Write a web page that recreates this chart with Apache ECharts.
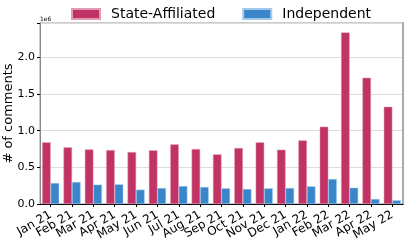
<!DOCTYPE html>
<html>
<head>
<meta charset="utf-8">
<script src="https://cdn.jsdelivr.net/npm/echarts@6/dist/echarts.min.js"></script>
<style>html,body{margin:0;padding:0;background:#fff;}#c{width:407px;height:246px;}</style>
</head>
<body>
<div id="c"></div>
<script>
var categories = ['Jan 21','Feb 21','Mar 21','Apr 21','May 21','Jun 21','Jul 21','Aug 21','Sep 21','Oct 21','Nov 21','Dec 21','Jan 22','Feb 22','Mar 22','Apr 22','May 22'];
var stateAffiliated = [841000,773000,745000,736000,709000,732000,814000,750000,677000,764000,841000,741000,868000,1055000,2341000,1723000,1327000];
var independent = [286000,300000,264000,268000,196000,218000,245000,232000,214000,205000,214000,218000,241000,341000,222000,68000,50000];
var seriesNames = ['State-Affiliated','Independent'];
var yTicks = [0, 500000, 1000000, 1500000, 2000000];

var font = 'DejaVu Sans';
var chart = echarts.init(document.getElementById('c'), null, {renderer:'canvas'});
chart.setOption({
  animation:false,
  textStyle:{fontFamily:font},
  legend:{
    top:7, left:71, padding:0, itemWidth:28, itemHeight:10, itemGap:27,
    icon:'rect',
    textStyle:{fontFamily:font, fontSize:14, color:'#000', padding:[0,0,0,6]},
    data:seriesNames
  },
  grid:{left:40, right:4, top:23, bottom:42, show:true, borderColor:'#999', borderWidth:1,
        containLabel:false, outerBoundsMode:'none'},
  xAxis:{
    type:'category', data:categories,
    axisLine:{lineStyle:{color:'#000', width:1}},
    axisTick:{show:true, alignWithLabel:true, length:3, lineStyle:{color:'#000'}},
    axisLabel:{rotate:30, fontSize:12, color:'#000', margin:10, interval:0, fontFamily:font}
  },
  yAxis:[{
    type:'value', min:0, max:2470000, interval:500000,
    name:'# of comments', nameLocation:'middle', nameGap:25, nameMoveOverlap:false,
    nameTextStyle:{fontSize:13, color:'#000', fontFamily:font},
    axisLine:{show:true, lineStyle:{color:'#888'}},
    axisTick:{show:true, length:3, lineStyle:{color:'#000'}},
    axisLabel:{fontSize:11, color:'#000', margin:5, fontFamily:font,
      formatter:function(v){return yTicks.indexOf(v)>=0 ? (v/1e6).toFixed(1) : '';}},
    splitLine:{show:true, lineStyle:{color:'#dcdcdc', width:1}}
  },{
    type:'value', position:'right', min:0, max:1,
    axisLine:{show:true, lineStyle:{color:'#aaa', width:2}},
    axisTick:{show:false}, axisLabel:{show:false}, splitLine:{show:false}
  }],
  graphic:[{type:'text', left:40, top:16, style:{text:'1e6', fontSize:6, fill:'#000', fontFamily:font}}],
  series:[
    {name:seriesNames[0], type:'bar', data:stateAffiliated, barGap:'0%', barCategoryGap:'20%',
     itemStyle:{color:'#c13265', borderColor:'#e39ab5', borderWidth:0.5}},
    {name:seriesNames[1], type:'bar', data:independent,
     itemStyle:{color:'#3a86cb', borderColor:'#a3c8ea', borderWidth:0.5}}
  ]
});
</script>
</body>
</html>
